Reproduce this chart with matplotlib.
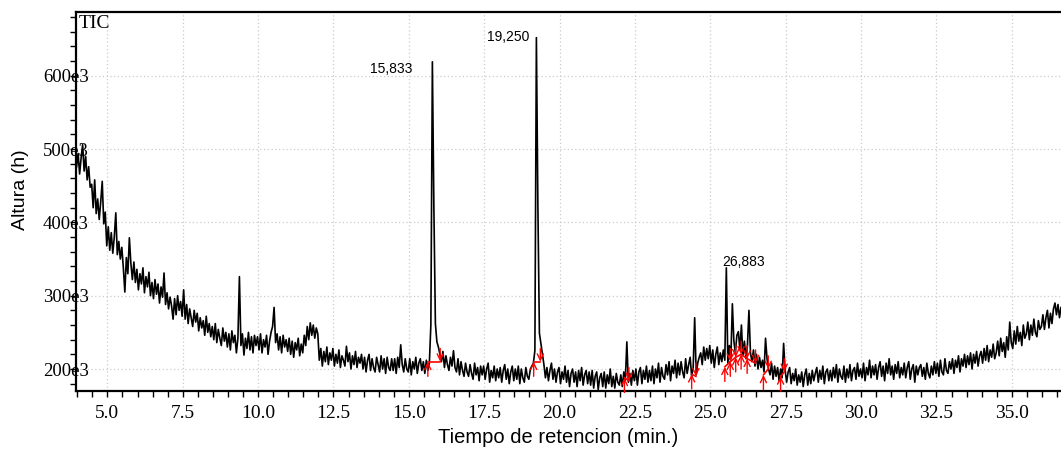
import numpy as np
import matplotlib
matplotlib.use("Agg")
import matplotlib.pyplot as plt
from matplotlib.ticker import MultipleLocator, FuncFormatter

# scan timing (min)
scan_start = 3.98
scan_step = 0.05

# TIC intensity, x1000 counts
tic_a = [476, 494, 466, 488, 506, 470, 490, 458, 476, 448,
         452, 420, 458, 412, 432, 404, 428, 456, 398, 414,
         368, 394, 362, 386, 358, 380, 413, 356, 374, 350,
         366, 338, 305, 352, 330, 379, 344, 322, 346, 318,
         336, 308, 330, 316, 338, 304, 326, 312, 332, 300,
         318, 296, 322, 302, 316, 290, 312, 298, 331, 288,
         304, 282, 298, 286, 268, 296, 274, 300, 280, 292,
         272, 308, 268, 288, 262, 282, 270, 258, 280, 264,
         276, 252, 270, 256, 266, 246, 272, 250, 262, 244,
         258, 240, 262, 236, 254, 242, 232, 256, 238, 250,
         230, 248, 226, 252, 236, 246, 222, 242, 326, 232,
         248, 219, 242, 228, 250, 226, 244, 222, 246, 232]
tic_b = [244, 226, 248, 222, 240, 230, 246, 220, 238, 250,
         258, 284, 236, 248, 226, 244, 222, 246, 230, 240,
         224, 242, 220, 238, 216, 236, 226, 242, 218, 234,
         222, 246, 232, 258, 240, 263, 246, 260, 242, 256,
         248, 212, 228, 204, 224, 210, 230, 206, 222, 212,
         228, 204, 220, 208, 226, 202, 218, 212, 204, 231,
         210, 222, 200, 218, 206, 224, 202, 216, 208, 220,
         200, 216, 196, 212, 220, 198, 214, 202, 196, 216,
         206, 196, 218, 200, 214, 194, 216, 202, 198, 214,
         198, 214, 194, 216, 202, 233, 206, 196, 214, 200,
         196, 214, 192, 210, 200, 216, 194, 208, 214, 198,
         210, 194, 212, 198, 208, 260, 619, 420, 262, 237]
tic_c = [230, 220, 210, 224, 202, 218, 206, 198, 216, 204,
         225, 202, 196, 214, 192, 210, 198, 190, 208, 196,
         190, 206, 194, 186, 208, 192, 202, 184, 204, 192,
         204, 186, 200, 208, 182, 198, 188, 204, 184, 200,
         188, 202, 182, 198, 206, 186, 200, 180, 196, 204,
         184, 200, 186, 204, 180, 200, 188, 182, 202, 190,
         186, 200, 204, 208, 225, 652, 420, 249, 235, 222,
         206, 188, 202, 184, 198, 208, 186, 200, 182, 196,
         202, 180, 196, 186, 204, 182, 198, 176, 194, 200,
         182, 196, 176, 198, 184, 202, 178, 192, 198, 180,
         196, 178, 198, 174, 190, 196, 172, 188, 194, 176,
         196, 174, 192, 180, 200, 176, 190, 174, 194, 182]
tic_d = [178, 192, 176, 196, 184, 237, 182, 194, 178, 198,
         184, 200, 178, 196, 202, 180, 198, 186, 204, 182,
         198, 184, 204, 180, 200, 188, 208, 182, 202, 190,
         186, 206, 192, 210, 184, 204, 194, 212, 188, 208,
         192, 210, 196, 188, 214, 194, 206, 216, 190, 202,
         270, 192, 208, 216, 222, 206, 230, 212, 228, 214,
         232, 208, 226, 202, 220, 230, 206, 222, 210, 226,
         212, 338, 208, 232, 214, 289, 238, 222, 246, 251,
         226, 260, 218, 238, 214, 232, 280, 222, 210, 226,
         204, 220, 200, 216, 202, 212, 196, 242, 214, 200,
         192, 208, 186, 204, 190, 202, 184, 200, 188, 235,
         198, 182, 196, 202, 180, 194, 184, 200, 178, 192]
tic_e = [182, 196, 176, 192, 200, 178, 194, 180, 198, 184,
         194, 202, 182, 198, 186, 204, 180, 196, 200, 184,
         198, 184, 202, 188, 206, 182, 200, 190, 186, 204,
         182, 200, 188, 206, 184, 198, 202, 186, 208, 190,
         200, 188, 208, 184, 202, 192, 212, 188, 204, 192,
         206, 186, 202, 210, 190, 204, 184, 208, 194, 214,
         192, 204, 186, 206, 194, 210, 188, 202, 192, 208,
         188, 202, 210, 186, 200, 206, 182, 204, 192, 202,
         206, 190, 202, 186, 208, 194, 188, 204, 192, 210,
         194, 208, 190, 212, 196, 192, 214, 198, 194, 210,
         200, 214, 194, 212, 202, 218, 196, 214, 204, 220,
         202, 218, 206, 222, 200, 220, 208, 224, 204, 218]
tic_f = [224, 208, 228, 212, 232, 210, 226, 216, 234, 214,
         222, 238, 218, 242, 224, 236, 216, 244, 226, 264,
         236, 228, 252, 234, 258, 238, 250, 232, 260, 242,
         248, 264, 240, 260, 246, 268, 250, 244, 266, 254,
         258, 274, 254, 270, 280, 256, 276, 262, 282, 290,
         274, 288, 270, 284]

# integration marks: start (time, level) -> end (time, level), level x1000
integ_t0 = [15.63, 19.14, 22.15, 24.38, 25.48, 25.66, 25.84, 26.02, 26.22, 26.76, 27.33]
integ_y0 = [210, 210, 188, 193, 203, 210, 216, 220, 214, 192, 190]
integ_t1 = [16.04, 19.36, 22.30, 24.52, 25.66, 25.84, 26.02, 26.22, 26.50, 26.92, 27.45]
integ_y1 = [210, 210, 184, 190, 210, 216, 220, 214, 208, 200, 196]

# peak labels
peak_labels = ["15,833", "19,250", "26,883"]
label_t = [15.12, 18.99, 25.38]
label_y = [604, 648, 340]
label_ha = ["right", "right", "left"]

tic = np.array(tic_a + tic_b + tic_c + tic_d + tic_e + tic_f) * 1e3
t = scan_start + scan_step * np.arange(len(tic))

fig = plt.figure(figsize=(10.61, 4.49), dpi=100)
ax = fig.add_axes([76 / 1061, 58 / 449, 985 / 1061, 379 / 449])

ax.plot(t, tic, color="black", lw=1.2, zorder=3)

arrow_kw = dict(arrowstyle="->,head_length=0.45,head_width=0.22", color="red",
                lw=1.0, shrinkA=0, shrinkB=0)
for t0, y0, t1, y1 in zip(integ_t0, integ_y0, integ_t1, integ_y1):
    ax.plot([t0, t1], [y0 * 1e3, y1 * 1e3], color="red", lw=1.2, zorder=4)
    ax.annotate("", xy=(t0, y0 * 1e3), xytext=(t0, (y0 - 20) * 1e3),
                arrowprops=arrow_kw, zorder=4)
    ax.annotate("", xy=(t1, y1 * 1e3), xytext=(t1, (y1 + 18) * 1e3),
                arrowprops=arrow_kw, zorder=4)

for s, x, y, ha in zip(peak_labels, label_t, label_y, label_ha):
    ax.text(x, y * 1e3, s, ha=ha, va="baseline", fontsize=10,
            family="Liberation Sans", zorder=5)

ax.text(0.003, 0.992, "TIC", transform=ax.transAxes, ha="left", va="top",
        fontsize=14, family="Liberation Serif")

ax.set_xlim(3.96, 36.63)
ax.set_ylim(170e3, 687e3)

ax.xaxis.set_major_locator(MultipleLocator(2.5))
ax.xaxis.set_minor_locator(MultipleLocator(0.5))
ax.yaxis.set_major_locator(MultipleLocator(100e3))
ax.yaxis.set_minor_locator(MultipleLocator(20e3))
ax.xaxis.set_major_formatter(FuncFormatter(lambda v, p: "%.1f" % v))
ax.yaxis.set_major_formatter(FuncFormatter(lambda v, p: "%de3" % round(v / 1e3)))

ax.grid(True, which="major", color="#cccccc", linestyle=(0, (1, 2)), lw=0.9)
ax.set_axisbelow(True)

ax.tick_params(axis="both", which="both", direction="out", length=4, width=1,
               top=False, right=False)
ax.tick_params(axis="x", which="major", pad=6)
ax.tick_params(axis="y", which="major", pad=-13)
for lab in ax.get_xticklabels():
    lab.set_family("Liberation Serif")
    lab.set_fontsize(14)
for lab in ax.get_yticklabels():
    lab.set_family("Liberation Serif")
    lab.set_fontsize(13.5)

for side in ["left", "bottom", "top"]:
    ax.spines[side].set_linewidth(1.6)
ax.spines["right"].set_visible(False)

ax.set_xlabel("Tiempo de retencion (min.)", fontsize=14.5, family="Liberation Sans")
ax.set_ylabel("Altura (h)", fontsize=14, family="Liberation Sans")
ax.xaxis.set_label_coords(0.489, -0.097)
ax.yaxis.set_label_coords(-0.048, 0.53)

fig.savefig("out.png", dpi=100)
